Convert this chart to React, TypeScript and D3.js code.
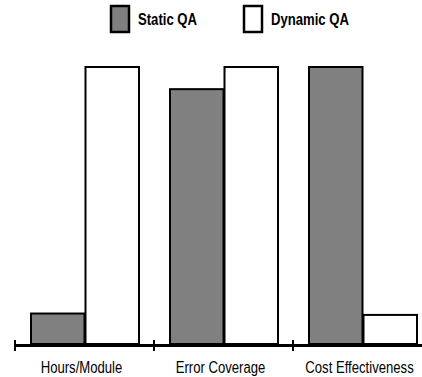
import React from "react";
import * as d3 from "d3";

const categories = ["Hours/Module", "Error Coverage", "Cost Effectiveness"];
const seriesNames = ["Static QA", "Dynamic QA"];
const staticQA = [11, 92, 100];
const dynamicQA = [100, 100, 10.5];

const W = 422;
const H = 377;
const FONT = "'Liberation Sans', Arial, sans-serif";
const SQUEEZE = 0.82;

function NarrowText({ x, y, anchor, bold, size, children }: any) {
  return (
    <g transform={`translate(${x},${y}) scale(${SQUEEZE},1)`}>
      <text
        x={0}
        y={0}
        textAnchor={anchor}
        fontFamily={FONT}
        fontWeight={bold ? "bold" : "normal"}
        fontSize={size}
        fill="#000"
      >
        {children}
      </text>
    </g>
  );
}

export default function App() {
  const x = d3.scaleBand<string>().domain(categories).range([15, 432]).paddingInner(0).paddingOuter(0);
  const inner = d3.scaleBand<string>().domain(seriesNames).range([15, 124]);
  const y = d3.scaleLinear().domain([0, 100]).range([344, 67]);
  const fills = ["#808080", "#ffffff"];
  const values = [staticQA, dynamicQA];
  const baseY = y(0);
  const ticks = [...categories.map((c) => x(c) as number), 432];

  return (
    <svg width={W} height={H} style={{ position: "absolute", left: 0, top: 0, background: "#fff" }}>
      {/* legend */}
      {seriesNames.map((s, i) => {
        const lx = [111, 244][i];
        return (
          <g key={s}>
            <rect x={lx} y={6} width={18} height={26} fill={fills[i]} stroke="#000" strokeWidth={2.5} />
            <NarrowText x={lx + 27} y={25} anchor="start" bold size={16}>
              {s}
            </NarrowText>
          </g>
        );
      })}
      {/* bars */}
      {categories.map((c, ci) =>
        seriesNames.map((s, si) => {
          const v = values[si][ci];
          const bx = (x(c) as number) + (inner(s) as number);
          return (
            <rect
              key={c + s}
              x={bx + 1}
              y={y(v)}
              width={inner.bandwidth() - 1}
              height={baseY - y(v)}
              fill={fills[si]}
              stroke="#000"
              strokeWidth={2}
            />
          );
        })
      )}
      {/* axis */}
      <line x1={15} x2={W} y1={345.5} y2={345.5} stroke="#000" strokeWidth={3} />
      {ticks.map((t, i) => (
        <line key={i} x1={t} x2={t} y1={340} y2={351} stroke="#000" strokeWidth={2} />
      ))}
      {categories.map((c) => (
        <NarrowText key={c} x={(x(c) as number) + x.bandwidth() / 2 - 3} y={373} anchor="middle" size={16}>
          {c}
        </NarrowText>
      ))}
    </svg>
  );
}
